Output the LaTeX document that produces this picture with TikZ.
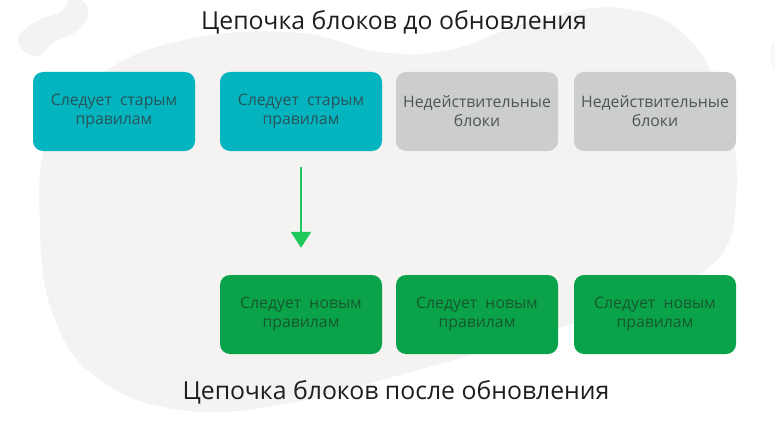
\documentclass[tikz,border=0pt]{standalone}
\usepackage{fontspec}
\setmainfont{Open Sans}
\usetikzlibrary{arrows.meta}

\definecolor{blobgray}{RGB}{244,243,242}
\definecolor{oldteal}{RGB}{4,181,191}
\definecolor{oldtext}{RGB}{40,84,90}
\definecolor{badgray}{RGB}{203,206,203}
\definecolor{badtext}{RGB}{80,84,82}
\definecolor{newgreen}{RGB}{10,163,74}
\definecolor{newtext}{RGB}{24,88,46}
\definecolor{arrowgreen}{RGB}{30,200,90}
\definecolor{titletext}{RGB}{30,30,30}

\begin{document}
\begin{tikzpicture}[x=1pt,y=-1pt,
		block/.style={rounded corners=10pt, minimum width=162pt, minimum height=79pt,
			inner sep=0pt, align=center, font=\fontsize{15.8}{19}\selectfont},
		oldblock/.style={block, fill=oldteal, text=oldtext},
		badblock/.style={block, fill=badgray, text=badtext},
		newblock/.style={block, fill=newgreen, text=newtext},
		heading/.style={text=titletext, font=\fontsize{24.8}{28}\selectfont}]

			\useasboundingbox (0,0) rectangle (775,433);
			\clip (0,0) rectangle (775,433);

			% background blobs
			\fill [color=blobgray] plot [smooth cycle, tension=0.7] coordinates {
				(40,230) (50,130) (110,68) (200,37) (300,33) (380,52) (450,50)
				(530,22) (620,8) (690,40) (728,120) (736,200) (715,262) (640,300)
				(520,340) (400,375) (280,405) (180,410) (100,380) (55,320)};
			\fill [color=blobgray] plot [smooth cycle, tension=0.8] coordinates {
				(18,40) (35,22) (60,12) (72,-2) (88,8) (80,28) (55,42) (35,56)};
			\fill [color=blobgray!60] (800,55) circle (30);

			\node (top) [heading] at (394,22) {Цепочка блоков до обновления};
			\node (bottom) [heading] at (396,392) {Цепочка блоков после обновления};

			\node (old1) [oldblock] at (114,111.5) {Следует\ \ старым\\правилам};
			\node (old2) [oldblock] at (301,111.5) {Следует\ \ старым\\правилам};
			\node (bad1) [badblock] at (477,111.5) {Недействительные\\блоки};
			\node (bad2) [badblock] at (655,111.5) {Недействительные\\блоки};

			\node (new1) [newblock] at (301,314.5) {Следует\ \ новым\\правилам};
			\node (new2) [newblock] at (477,314.5) {Следует\ \ новым\\правилам};
			\node (new3) [newblock] at (655,314.5) {Следует\ \ новым\\правилам};

			\draw [-{Triangle[width=20pt,length=16pt]}, color=arrowgreen, line width=2.5pt,
				shorten <=16pt, shorten >=27pt] (old2) -- (new1);
		\end{tikzpicture}
\end{document}
